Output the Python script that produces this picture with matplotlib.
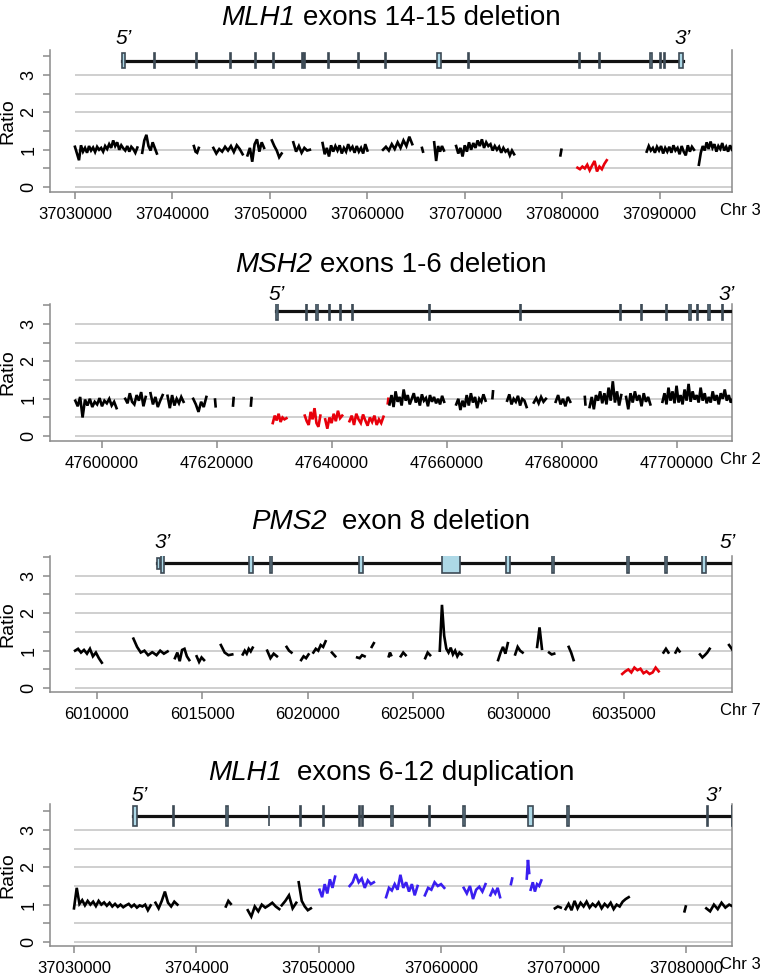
import numpy as np
import matplotlib
matplotlib.use("Agg")
import matplotlib.pyplot as plt
from matplotlib.patches import Rectangle

plt.rcParams['font.family'] = ['Liberation Sans', 'DejaVu Sans']

BLACK, RED, BLUE = '#000000', '#e8000b', '#3a1ff0'

# ---------------- panel data ----------------
# segments: (start, end, colour, ratios)
mlh1_del_segments = [
    (37030000, 37036400, BLACK, [1.08, 0.9, 0.72, 1.12, 0.95, 1.05, 0.92, 1.1, 0.98, 1.06, 0.94, 1.08,
                                 1.0, 1.05, 0.95, 1.1, 1.02, 1.15, 1.05, 1.25, 1.1, 1.2, 1.0, 1.12,
                                 1.04, 0.98, 1.1, 0.95, 1.08, 1.02, 0.92, 1.06]),
    (37036900, 37038400, BLACK, [0.92, 1.25, 1.4, 1.1, 0.98, 1.2, 1.05, 0.9]),
    (37042200, 37042700, BLACK, [1.1, 0.95, 0.92, 1.05]),
    (37044200, 37047200, BLACK, [1.05, 0.9, 1.02, 0.95, 1.08, 0.98, 1.1, 0.94, 1.12, 1.02, 0.88]),
    (37047700, 37049400, BLACK, [0.85, 1.05, 0.68, 1.15, 1.28, 0.95, 1.2, 1.05]),
    (37050200, 37051200, BLACK, [1.25, 1.1, 0.98, 0.8, 0.9]),
    (37052400, 37054100, BLACK, [1.2, 0.95, 1.1, 0.92, 1.05, 0.98, 1.0]),
    (37055400, 37060000, BLACK, [1.18, 0.88, 1.05, 0.82, 1.12, 0.95, 1.1, 0.98, 1.12, 0.9, 1.05, 0.95,
                                 1.15, 1.0, 1.08, 0.92, 1.1, 0.95, 1.05, 0.9, 1.15, 0.98]),
    (37061600, 37064600, BLACK, [1.0, 1.08, 0.98, 1.15, 1.02, 1.2, 1.05, 1.25, 1.1, 1.35, 1.15]),
    (37065600, 37065700, BLACK, [1.05, 0.95]),
    (37066850, 37067850, BLACK, [1.2, 0.7, 1.1, 0.95, 1.1, 0.98]),
    (37069100, 37075050, BLACK, [1.1, 0.9, 1.05, 0.82, 1.12, 0.95, 1.2, 1.0, 1.18, 1.05, 1.25, 1.1,
                                 1.28, 1.05, 1.2, 1.1, 1.15, 0.98, 1.1, 1.0, 1.08, 0.92, 1.05, 0.95,
                                 1.0, 0.85, 0.98, 0.88]),
    (37079800, 37079900, BLACK, [0.85, 1.0]),
    (37081550, 37084550, RED, [0.52, 0.48, 0.55, 0.5, 0.6, 0.45, 0.58, 0.7, 0.42, 0.55, 0.48, 0.62, 0.72]),
    (37088650, 37093500, BLACK, [0.95, 1.1, 0.98, 1.05, 0.92, 1.08, 0.98, 1.1, 0.9, 1.05, 0.95, 1.08,
                                 0.92, 1.12, 0.98, 1.05, 0.88, 1.1, 0.95, 0.85, 1.12, 0.95, 1.08, 1.0]),
    (37094000, 37097400, BLACK, [0.6, 0.92, 1.1, 0.98, 1.2, 1.02, 1.22, 1.05, 1.15, 0.95, 1.1, 1.02,
                                 1.18, 0.98, 1.08, 0.95, 1.12, 1.0]),
]

msh2_segments = [
    (47595360, 47602530, BLACK, [0.95, 0.8, 1.05, 0.5, 0.98, 0.82, 1.0, 0.78, 0.92, 0.85, 1.02, 0.8,
                                 0.95, 0.88, 1.0, 0.82, 0.92, 0.75]),
    (47604050, 47607600, BLACK, [1.0, 0.88, 1.15, 0.92, 0.85, 1.1, 0.95, 1.18, 0.8, 1.05]),
    (47608440, 47610550, BLACK, [1.15, 0.85, 1.05, 0.78, 0.95, 1.1]),
    (47611400, 47614180, BLACK, [1.08, 0.75, 1.1, 0.82, 1.0, 0.88, 1.05, 0.92]),
    (47615870, 47618150, BLACK, [1.0, 0.85, 0.65, 0.92, 0.78, 1.05]),
    (47619660, 47619760, BLACK, [0.98, 0.8]),
    (47622790, 47622890, BLACK, [0.82, 1.02]),
    (47625900, 47626000, BLACK, [0.82, 1.02]),
    (47629700, 47632070, RED, [0.35, 0.55, 0.42, 0.6, 0.38, 0.5, 0.45, 0.48]),
    (47635270, 47637975, RED, [0.55, 0.4, 0.3, 0.65, 0.45, 0.75, 0.35, 0.25, 0.55]),
    (47638820, 47641770, RED, [0.45, 0.2, 0.5, 0.35, 0.6, 0.4, 0.68, 0.48, 0.55]),
    (47643040, 47648950, RED, [0.4, 0.55, 0.3, 0.6, 0.45, 0.35, 0.58, 0.42, 0.28, 0.5, 0.38, 0.55,
                               0.3, 0.45, 0.35, 0.52]),
    (47649700, 47649800, RED, [0.88, 1.0]),
    (47650000, 47659500, BLACK, [0.85, 1.1, 0.78, 1.2, 0.92, 1.05, 0.82, 1.25, 0.95, 1.1, 0.85, 1.0,
                                 1.15, 0.9, 1.05, 0.82, 1.12, 0.95, 1.02, 0.8, 1.1, 0.92, 1.05, 0.88,
                                 1.0, 0.85, 1.08, 0.92]),
    (47661600, 47666700, BLACK, [0.85, 1.0, 0.7, 0.95, 0.78, 1.1, 0.82, 1.15, 0.9, 1.05, 0.75, 1.0,
                                 0.92, 1.12, 0.95]),
    (47667900, 47668000, BLACK, [1.02, 1.2]),
    (47670460, 47673840, BLACK, [0.95, 1.12, 0.85, 1.0, 0.92, 1.08, 0.82, 1.0, 0.95, 0.78]),
    (47675100, 47677200, BLACK, [0.9, 1.02, 0.88, 1.05, 0.92, 1.0]),
    (47678900, 47681430, BLACK, [0.92, 1.1, 0.85, 1.0, 0.8, 1.05, 0.92]),
    (47683970, 47684070, BLACK, [1.05, 0.85]),
    (47684800, 47690300, BLACK, [0.78, 1.05, 0.72, 1.1, 0.95, 1.2, 0.88, 1.15, 0.85, 1.3, 0.95, 1.47,
                                 0.9, 1.2, 0.82, 1.1]),
    (47691140, 47695360, BLACK, [1.05, 0.72, 1.15, 0.9, 1.2, 0.95, 1.1, 0.8, 1.15, 0.92, 1.05, 0.85]),
    (47697470, 47709700, BLACK, [0.92, 1.15, 0.85, 1.3, 0.95, 1.2, 0.88, 1.35, 0.9, 1.1, 0.85, 1.25,
                                 0.95, 1.4, 0.92, 1.2, 0.98, 1.1, 0.9, 1.3, 0.95, 1.15, 0.88, 1.05,
                                 0.9, 1.2, 0.95, 1.1, 0.85, 1.15, 1.0, 1.25, 0.95, 1.1, 0.9, 1.0]),
]

pms2_segments = [
    (6008960, 6010230, BLACK, [1.0, 1.05, 0.95, 1.02, 0.92, 1.05, 0.85, 0.95, 0.8, 0.68]),
    (6011730, 6012600, BLACK, [1.32, 1.1, 0.95, 1.0, 0.88, 0.95]),
    (6012650, 6013350, BLACK, [0.95, 0.88, 1.0, 0.92, 0.98]),
    (6013700, 6014380, BLACK, [0.8, 0.95, 0.72, 1.02, 1.05, 0.85, 0.75]),
    (6014730, 6015080, BLACK, [0.85, 0.7, 0.82, 0.75]),
    (6015880, 6016420, BLACK, [1.15, 0.95, 0.88, 0.9]),
    (6016920, 6017390, BLACK, [0.9, 1.0, 0.92, 1.05, 0.98, 1.08]),
    (6018080, 6018540, BLACK, [1.0, 0.8, 0.92, 0.85]),
    (6019000, 6019230, BLACK, [1.1, 1.0, 0.95]),
    (6019690, 6020040, BLACK, [0.75, 0.85, 0.8, 0.9]),
    (6020270, 6020850, BLACK, [0.95, 1.05, 1.0, 1.15, 1.1, 1.25]),
    (6021150, 6021310, BLACK, [0.95, 0.85]),
    (6022350, 6022700, BLACK, [0.82, 0.8, 0.88, 0.85]),
    (6023040, 6023140, BLACK, [1.1, 1.2]),
    (6023850, 6023960, BLACK, [0.85, 0.95, 0.88]),
    (6024420, 6024650, BLACK, [0.85, 0.95, 0.88]),
    (6025580, 6025810, BLACK, [0.8, 0.95, 0.88]),
    (6026270, 6027310, BLACK, [1.0, 2.22, 1.4, 1.05, 0.95, 1.08, 0.9, 1.0, 0.85, 0.95, 0.9]),
    (6029040, 6029500, BLACK, [0.75, 0.95, 1.1, 0.92, 1.2]),
    (6029850, 6030200, BLACK, [0.9, 1.1, 1.0, 0.95]),
    (6030890, 6031120, BLACK, [1.1, 1.62, 1.05]),
    (6031460, 6031700, BLACK, [0.95, 0.9, 0.92]),
    (6032390, 6032620, BLACK, [1.1, 0.95, 0.75]),
    (6034930, 6036660, RED, [0.38, 0.45, 0.5, 0.42, 0.55, 0.48, 0.52, 0.4, 0.45, 0.38, 0.42, 0.55, 0.45]),
    (6036890, 6037120, BLACK, [0.95, 1.05, 0.95]),
    (6037460, 6037650, BLACK, [0.95, 1.05, 0.98]),
    (6038620, 6039080, BLACK, [0.9, 0.82, 0.88, 0.95, 1.05]),
    (6040000, 6040190, BLACK, [1.15, 1.0]),
]

mlh1_dup_segments = [
    (37030000, 37036260, BLACK, [0.9, 1.45, 1.02, 1.12, 0.98, 1.1, 1.0, 1.08, 0.96, 1.1, 1.0, 1.06,
                                 0.97, 1.05, 0.95, 1.02, 0.94, 1.0, 0.93, 0.98, 1.02, 0.94, 1.0, 0.92,
                                 0.98, 0.95, 1.0, 0.85, 0.98]),
    (37036660, 37038450, BLACK, [1.05, 0.9, 1.1, 1.35, 1.05, 0.95, 1.08, 1.0]),
    (37042410, 37042810, BLACK, [0.95, 1.1, 1.02]),
    (37044200, 37046770, BLACK, [0.85, 0.68, 0.95, 0.82, 1.0, 0.92, 0.98, 1.05, 0.95, 0.88]),
    (37046970, 37048160, BLACK, [0.98, 1.1, 1.25, 0.9, 1.05]),
    (37048360, 37049350, BLACK, [1.6, 1.1, 0.95, 0.85, 0.9]),
    (37050060, 37051330, BLUE, [1.4, 1.2, 1.55, 1.3, 1.68, 1.45, 1.75]),
    (37052520, 37054500, BLUE, [1.5, 1.6, 1.82, 1.6, 1.7, 1.45, 1.65, 1.55, 1.6]),
    (37055500, 37058070, BLUE, [1.2, 1.45, 1.38, 1.55, 1.4, 1.8, 1.45, 1.6, 1.35, 1.55, 1.25, 1.5]),
    (37058670, 37060250, BLUE, [1.25, 1.45, 1.4, 1.6, 1.5, 1.55, 1.45]),
    (37061840, 37063620, BLUE, [1.45, 1.3, 1.5, 1.15, 1.4, 1.48, 1.35, 1.55]),
    (37064020, 37064810, BLUE, [1.25, 1.4, 1.3, 1.45, 1.2]),
    (37065700, 37065800, BLUE, [1.55, 1.7]),
    (37066990, 37067190, BLUE, [1.7, 2.2, 1.85]),
    (37067310, 37068180, BLUE, [1.4, 1.6, 1.35, 1.55, 1.5, 1.65]),
    (37069290, 37069770, BLACK, [0.9, 0.95, 0.92]),
    (37070160, 37075320, BLACK, [0.88, 1.02, 0.85, 1.1, 0.9, 1.05, 0.95, 1.08, 0.92, 1.02, 0.95, 1.06,
                                 0.9, 1.02, 0.94, 1.05, 0.88, 1.0, 0.95, 1.08, 1.15, 1.2]),
    (37079880, 37079980, BLACK, [0.82, 0.95]),
    (37081660, 37083840, BLACK, [0.9, 0.82, 1.0, 0.88, 1.05, 0.92, 1.0, 0.95]),
]

# exon coordinates (start, end)
mlh1_exons = [(37034841, 37035154), (37038110, 37038200), (37042446, 37042544), (37045892, 37045965),
              (37048482, 37048554), (37050305, 37050396), (37053311, 37053353), (37053502, 37053590),
              (37055923, 37056035), (37058997, 37059090), (37061801, 37061954), (37067128, 37067498),
              (37070275, 37070423), (37081677, 37081785), (37083759, 37083822), (37089010, 37089174),
              (37090008, 37090100), (37090395, 37090508), (37091977, 37092337)]
msh2_exons = [(47630206, 47630541), (47635540, 47635694), (47637233, 47637511), (47639553, 47639699),
              (47641408, 47641557), (47643435, 47643568), (47656881, 47657080), (47672687, 47672796),
              (47690170, 47690293), (47693797, 47693947), (47698104, 47698201), (47702164, 47702409),
              (47703506, 47703710), (47705411, 47705658), (47707835, 47708010), (47709830, 47710367)]
pms2_exons = [(6012870, 6013000), (6013050, 6013173), (6017219, 6017388), (6018227, 6018327),
              (6022455, 6022622), (6026390, 6027251), (6029431, 6029586), (6031604, 6031688),
              (6035165, 6035264), (6036957, 6037054), (6038739, 6038906), (6042084, 6042267)]

genes = ['MLH1', 'MSH2', 'PMS2', 'MLH1']
title_rest = ['exons 14-15 deletion', 'exons 1-6 deletion', 'exon 8 deletion', 'exons 6-12 duplication']
title_gap = [1, 1, 2, 2]  # spaces between gene name and the rest
xticks_1 = [37030000, 37040000, 37050000, 37060000, 37070000, 37080000, 37090000]
xticks_2 = [47600000, 47620000, 47640000, 47660000, 47680000, 47700000]
xticks_3 = [6010000, 6015000, 6020000, 6025000, 6030000, 6035000]
xticks_4 = [37030000, 37040000, 37050000, 37060000, 37070000, 37080000]
xticklabels_4 = ['37030000', '3704000', '37050000', '37060000', '37070000', '37080000']
chroms = ['Chr 3', 'Chr 2', 'Chr 7', 'Chr 3']

panels = [
    dict(seg=mlh1_del_segments, exons=mlh1_exons, gene=(37034841, 37092337), xlim=(37027440, 37097400),
         ylim=(-0.13, 3.67), line_y=3.38, half=0.2, xt=xticks_1, xtl=[str(v) for v in xticks_1],
         ends=[(37035000, "5’"), (37092300, "3’")], end_y=3.97, top=50, bottom=192, title_y=15),
    dict(seg=msh2_segments, exons=msh2_exons, gene=(47630206, 47710367), xlim=(47590960, 47709560),
         ylim=(-0.13, 3.54), line_y=3.35, half=0.25, xt=xticks_2, xtl=[str(v) for v in xticks_2],
         ends=[(47630300, "5’"), (47708700, "3’")], end_y=3.8, top=304, bottom=441, title_y=262),
    dict(seg=pms2_segments, exons=pms2_exons, gene=(6012870, 6048737), xlim=(6007770, 6040140),
         ylim=(-0.10, 3.52), line_y=3.33, half=0.26, xt=xticks_3, xtl=[str(v) for v in xticks_3],
         ends=[(6013100, "3’"), (6039950, "5’")], end_y=3.88, top=556, bottom=692, title_y=519),
    dict(seg=mlh1_dup_segments, exons=mlh1_exons, gene=(37034841, 37092337), xlim=(37028040, 37083760),
         ylim=(-0.11, 3.70), line_y=3.38, half=0.26, xt=xticks_4, xtl=xticklabels_4,
         ends=[(37035400, "5’"), (37082300, "3’")], end_y=3.93, top=804, bottom=946, title_y=770),
]

W, H = 762, 980
fig = plt.figure(figsize=(W / 100, H / 100), dpi=100)
renderer = fig.canvas.get_renderer()
GRID = '#cccccc'
AX = '#8a8a8a'
TITLE_SIZE = 20
TICK_SIZE = 12

for i, p in enumerate(panels):
    ax = fig.add_axes([50 / W, 1 - p['bottom'] / H, 682 / W, (p['bottom'] - p['top']) / H])
    ax.set_xlim(*p['xlim'])
    ax.set_ylim(*p['ylim'])

    data_start = p['seg'][0][0]
    ax.hlines(np.arange(0, 3.01, 0.5), data_start, p['xlim'][1], colors=GRID, lw=1.3, zorder=1)

    for x0, x1, col, ys in p['seg']:
        xs = np.linspace(x0, x1, len(ys))
        ax.plot(xs, ys, color=col, lw=1.9, zorder=3, solid_joinstyle='miter')

    # gene model
    ax.plot(p['gene'], [p['line_y']] * 2, color='#111111', lw=2.3, zorder=4)
    for k, (s, e) in enumerate(p['exons']):
        h = p['half']
        if i == 2 and k == 0:
            h = p['half'] * 0.55
        ax.add_patch(Rectangle((s, p['line_y'] - h), e - s, 2 * h, facecolor='#add8e6',
                               edgecolor='#3d4a55', lw=1.2, zorder=5))
    for xv, txt in p['ends']:
        ax.text(xv, p['end_y'], txt, style='italic', fontsize=15, ha='center', va='center',
                clip_on=False)

    # axes styling
    for sp in ['left', 'bottom', 'right']:
        ax.spines[sp].set_color(AX)
        ax.spines[sp].set_linewidth(1.1)
    ax.spines['top'].set_visible(False)
    ax.set_xticks(p['xt'])
    ax.set_xticklabels(p['xtl'], fontsize=TICK_SIZE)
    ax.set_yticks([0, 1, 2, 3])
    ax.set_yticklabels(['0', '1', '2', '3'], fontsize=TICK_SIZE + 1, rotation=90, va='center')
    ax.set_yticks([0.5, 1.5, 2.5, 3.5], minor=True)
    ax.tick_params(axis='both', which='both', color=AX, length=5, width=1.1)
    ax.tick_params(axis='x', pad=6)
    ax.tick_params(axis='y', pad=4)
    ax.set_ylabel('Ratio', fontsize=14)
    ax.yaxis.set_label_coords(-0.049, 0.5)
    fig.text(761 / W, 1 - (p['bottom'] + 11) / H, chroms[i], fontsize=TICK_SIZE, ha='right', va='top')

    # title: italic gene symbol followed by plain text
    base = 1 - (p['title_y'] + 10) / H
    t1 = fig.text(0, base, genes[i], style='italic', fontsize=TITLE_SIZE, va='baseline')
    t2 = fig.text(0, base, title_rest[i], fontsize=TITLE_SIZE, va='baseline')
    w1 = t1.get_window_extent(renderer).width
    w2 = t2.get_window_extent(renderer).width
    gap = title_gap[i] * 0.278 * TITLE_SIZE * 100 / 72
    x0 = 391 - (w1 + gap + w2) / 2
    t1.set_x(x0 / W)
    t2.set_x((x0 + w1 + gap) / W)

fig.savefig('out.png', dpi=100)
